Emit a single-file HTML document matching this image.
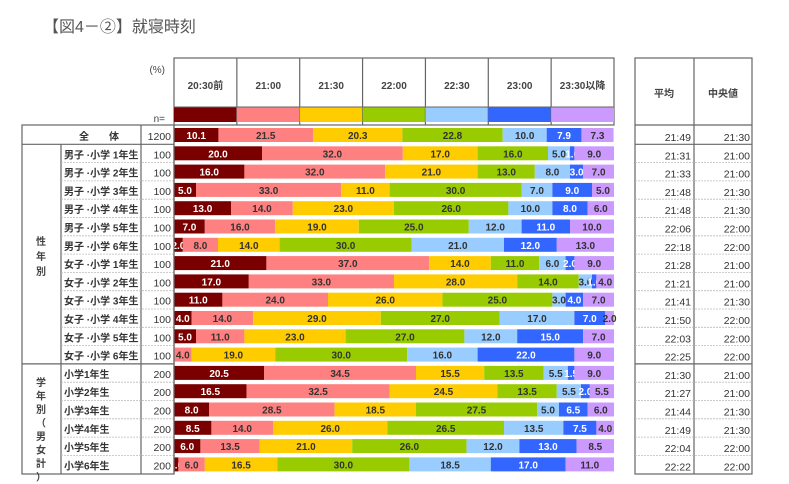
<!DOCTYPE html>
<html><head><meta charset="utf-8">
<style>
html,body{margin:0;padding:0;background:#fff;}
body{width:789px;height:484px;overflow:hidden;position:relative;font-family:"Liberation Sans","Noto Sans CJK JP",sans-serif;}
#title{position:absolute;left:43px;top:13px;font-size:16px;color:#555;white-space:nowrap;}
svg{position:absolute;left:0;top:0;}
</style></head>
<body>
<div id="title">【図4－②】就寝時刻</div>
<svg id="chart" width="789" height="484" font-family="Liberation Sans, Noto Sans CJK JP, sans-serif"></svg>
<script>
const categories = ["20:30前","21:00","21:30","22:00","22:30","23:00","23:30以降"];
const rowLabels = ["全　　体","男子 ·小学 1年生","男子 ·小学 2年生","男子 ·小学 3年生","男子 ·小学 4年生","男子 ·小学 5年生","男子 ·小学 6年生","女子 ·小学 1年生","女子 ·小学 2年生","女子 ·小学 3年生","女子 ·小学 4年生","女子 ·小学 5年生","女子 ·小学 6年生","小学1年生","小学2年生","小学3年生","小学4年生","小学5年生","小学6年生"];
const nValues = [1200,100,100,100,100,100,100,100,100,100,100,100,100,200,200,200,200,200,200];
const s1 = [10.1,20,16,5,13,7,2,21,17,11,4,5,0,20.5,16.5,8,8.5,6,1];
const s2 = [21.5,32,32,33,14,16,8,37,33,24,14,11,4,34.5,32.5,28.5,14,13.5,6];
const s3 = [20.3,17,21,11,23,19,14,14,28,26,29,23,19,15.5,24.5,18.5,26,21,16.5];
const s4 = [22.8,16,13,30,26,25,30,11,14,25,27,27,30,13.5,13.5,27.5,26.5,26,30];
const s5 = [10.0,5,8,7,10,12,21,6,3,3,17,12,16,5.5,5.5,5,13.5,12,18.5];
const s6 = [7.9,1,3,9,8,11,12,2,1,4,7,15,22,1.5,2,6.5,7.5,13,17];
const s7 = [7.3,9,7,5,6,10,13,9,4,7,2,7,9,9,5.5,6,4,8.5,11];
const avgTimes = ["21:49","21:31","21:33","21:48","21:48","22:06","22:18","21:28","21:21","21:41","21:50","22:03","22:25","21:30","21:27","21:44","21:49","22:04","22:22"];
const medTimes = ["21:30","21:00","21:00","21:30","21:30","22:00","22:00","21:00","21:00","21:30","22:00","22:00","22:00","21:00","21:00","21:30","21:30","22:00","22:00"];
const series = [s1,s2,s3,s4,s5,s6,s7];

const colors = ["#7a0000","#ff8080","#ffcc00","#99cc00","#99ccff","#3366ff","#cc99ff"];
const txtColors = ["#fff","#333","#333","#333","#333","#fff","#333"];
const X0 = 174, X1 = 614, Y0 = 126, RH = 18.3;
const x = v => X0 + v/100*(X1-X0);
const rowY = i => Y0 + i*RH;
const svg = document.getElementById('chart');
const NS = "http://www.w3.org/2000/svg";
function mk(tag, attrs, parent){const e=document.createElementNS(NS,tag);for(const k in attrs)e.setAttribute(k,attrs[k]);(parent||svg).appendChild(e);return e;}

// header box
const colW = (X1-X0)/categories.length;
mk('rect',{x:X0,y:58,width:X1-X0,height:67,fill:'#fff',stroke:'#666','stroke-width':1.2});
categories.forEach((c,j)=>{
  const cx = X0 + j*colW;
  if(j>0){ const l=mk('line',{x1:cx,y1:58,x2:cx,y2:125,stroke:'#666','stroke-width':1.2}); }
  const t = mk('text',{x:cx+colW/2,y:89,'font-size':10,'font-weight':'bold','text-anchor':'middle',fill:'#444'});
  t.textContent = c;
  
  
  const r = mk('rect',{x:cx,y:107,width:colW,height:15,fill:colors[j]});
  
  
});
mk('line',{x1:X0,y1:107,x2:X1,y2:107,stroke:'#666','stroke-width':1});
let t = mk('text',{x:165,y:73,'font-size':10,'text-anchor':'end',fill:'#444'}); t.textContent='(%)';
t = mk('text',{x:165,y:122,'font-size':10,'text-anchor':'end',fill:'#444'}); t.textContent='n=';

// left table
mk('rect',{x:22,y:125,width:152,height:349,fill:'none',stroke:'#666','stroke-width':1.2});
mk('line',{x1:141,y1:125,x2:141,y2:474,stroke:'#666','stroke-width':1.2});
mk('line',{x1:22,y1:rowY(1),x2:174,y2:rowY(1),stroke:'#666','stroke-width':1.2});
mk('line',{x1:22,y1:rowY(13),x2:174,y2:rowY(13),stroke:'#666','stroke-width':1.2});
mk('line',{x1:61,y1:rowY(1),x2:61,y2:474,stroke:'#666','stroke-width':1.2});
// vertical group labels
"性年別".split('').forEach((ch,k)=>{const e=mk('text',{x:41,y:245+k*15,'font-size':10,'font-weight':'bold','text-anchor':'middle',fill:'#444'});e.textContent=ch;});
"学年別（男女計）".split('').forEach((ch,k)=>{const e=mk('text',{x:41,y:386+k*13.5,'font-size':10,'font-weight':'bold','text-anchor':'middle',fill:'#444'});e.textContent=ch;});

// right table
mk('rect',{x:635,y:58,width:117,height:416,fill:'none',stroke:'#666','stroke-width':1.2});
mk('line',{x1:694,y1:58,x2:694,y2:474,stroke:'#666','stroke-width':1.2});
mk('line',{x1:635,y1:125,x2:752,y2:125,stroke:'#666','stroke-width':1.2});
mk('line',{x1:635,y1:rowY(1),x2:752,y2:rowY(1),stroke:'#666','stroke-width':1.2});
mk('line',{x1:635,y1:rowY(13),x2:752,y2:rowY(13),stroke:'#666','stroke-width':1.2});
t = mk('text',{x:664,y:97,'font-size':10,'font-weight':'bold','text-anchor':'middle',fill:'#444'}); t.textContent='平均';
t = mk('text',{x:723,y:97,'font-size':10,'font-weight':'bold','text-anchor':'middle',fill:'#444'}); t.textContent='中央値';

rowLabels.forEach((lab,i)=>{
  const y = rowY(i);
  if(i>0 && i!==1 && i!==13){
    mk('line',{x1:61,y1:y,x2:174,y2:y,stroke:'#bbb','stroke-width':0.8,'stroke-dasharray':'2,1'});
    mk('line',{x1:635,y1:y,x2:752,y2:y,stroke:'#bbb','stroke-width':0.8,'stroke-dasharray':'2,1'});
  }
  const lt = mk('text',{x: i===0?99:64, y:y+14,'font-size':10,'font-weight':'bold','text-anchor':i===0?'middle':'start',fill:'#333'});
  lt.textContent = lab;
  
  
  const nt = mk('text',{x:171,y:y+14,'font-size':10.5,'text-anchor':'end',fill:'#333'});
  nt.textContent = nValues[i];
  let cum = 0;
  series.forEach((s,j)=>{
    const v = s[i];
    if(v>0){
      const r = mk('rect',{x:x(cum),y:y+2,width:x(cum+v)-x(cum),height:14,fill:colors[j]});
      
      
      const vt = mk('text',{x:(x(cum)+x(cum+v))/2,y:y+13,'font-size':10,'font-weight':'bold','text-anchor':'middle',fill:txtColors[j]});
      vt.textContent = v.toFixed(1);
    }
    cum += v;
  });
  const at = mk('text',{x:691,y:y+15,'font-size':10.5,'text-anchor':'end',fill:'#333'});
  at.textContent = avgTimes[i];
  
  
  const md = mk('text',{x:750,y:y+15,'font-size':10.5,'text-anchor':'end',fill:'#333'});
  md.textContent = medTimes[i];
  
  
});
mk('line',{x1:X0,y1:125,x2:X0,y2:474,stroke:'#666','stroke-width':1.2});
</script>
</body></html>
